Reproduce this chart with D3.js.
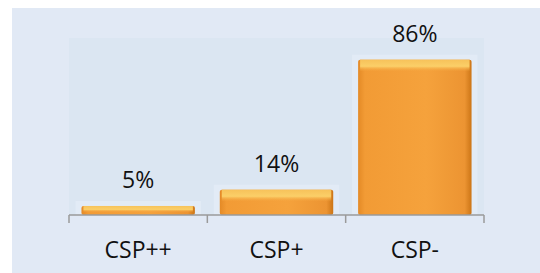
<!DOCTYPE html>
<html>
<head>
<meta charset="utf-8">
<script src="https://cdn.jsdelivr.net/npm/d3@7"></script>
<style>
  body { margin: 0; background: #fff; }
  svg { display: block; font-family: "Open Sans", "Noto Sans", sans-serif; }
</style>
</head>
<body>
<div id="chart"></div>
<script>
const categories = ["CSP++", "CSP+", "CSP-"];
const values = [5, 14, 86];
const valueLabels = ["5%", "14%", "86%"];

const width = 540, height = 273;
const plot = { left: 69, right: 484, top: 38, bottom: 215 };

const svg = d3.select("#chart").append("svg")
    .attr("width", width)
    .attr("height", height);

const defs = svg.append("defs");

// body of the bar: darker at the sides
const sideGrad = defs.append("linearGradient").attr("id", "barSide")
    .attr("x1", "0").attr("x2", "1").attr("y1", "0").attr("y2", "0");
sideGrad.append("stop").attr("offset", "0%").attr("stop-color", "#e48a26");
sideGrad.append("stop").attr("offset", "6%").attr("stop-color", "#f29b35");
sideGrad.append("stop").attr("offset", "60%").attr("stop-color", "#f5a23c");
sideGrad.append("stop").attr("offset", "94%").attr("stop-color", "#ec9432");
sideGrad.append("stop").attr("offset", "100%").attr("stop-color", "#cc7516");

// bevel on top
const topGrad = defs.append("linearGradient").attr("id", "barTop")
    .attr("x1", "0").attr("x2", "0").attr("y1", "0").attr("y2", "1");
topGrad.append("stop").attr("offset", "0%").attr("stop-color", "#f7c25a");
topGrad.append("stop").attr("offset", "55%").attr("stop-color", "#fbcf68");
topGrad.append("stop").attr("offset", "100%").attr("stop-color", "#f5a23c").attr("stop-opacity", 0);

// outer panel
svg.append("rect")
    .attr("x", 12).attr("y", 8)
    .attr("width", width - 12).attr("height", height - 8)
    .attr("fill", "#e1e9f5");

// plot area
svg.append("rect")
    .attr("x", plot.left).attr("y", plot.top)
    .attr("width", plot.right - plot.left).attr("height", plot.bottom - plot.top)
    .attr("fill", "#dbe6f2");

const x = d3.scaleBand()
    .domain(categories)
    .range([plot.left, plot.right])
    .paddingInner(0.18)
    .paddingOuter(0.09);

const y = d3.scaleLinear()
    .domain([0, 98])
    .range([plot.bottom, plot.top]);

const data = categories.map((c, i) => ({ cat: c, value: values[i], label: valueLabels[i] }));

const bars = svg.append("g").selectAll("g")
    .data(data)
    .enter()
    .append("g");

// soft halo behind bars
bars.append("rect")
    .attr("x", d => x(d.cat) - 6)
    .attr("y", d => y(d.value) - 5)
    .attr("width", x.bandwidth() + 12)
    .attr("height", d => y(0) - y(d.value) + 5)
    .attr("fill", "#e4ecf6")
    .attr("opacity", 0.8);

bars.append("rect")
    .attr("x", d => x(d.cat))
    .attr("y", d => y(d.value))
    .attr("width", x.bandwidth())
    .attr("height", d => y(0) - y(d.value))
    .attr("rx", 2)
    .attr("fill", "url(#barSide)");

bars.append("rect")
    .attr("x", d => x(d.cat) + 2)
    .attr("y", d => y(d.value))
    .attr("width", x.bandwidth() - 4)
    .attr("height", d => Math.min(12, (y(0) - y(d.value)) * 0.7))
    .attr("fill", "url(#barTop)");

// axis line with ticks at band edges
const axisY = plot.bottom;
const tickX = categories.map(c => x(c) - x.step() * x.paddingInner() / 2);
tickX[0] = plot.left;
tickX.push(plot.right);

svg.append("line")
    .attr("x1", plot.left).attr("x2", plot.right)
    .attr("y1", axisY).attr("y2", axisY)
    .attr("stroke", "#9a9a9a").attr("stroke-width", 1.5);

svg.append("g").selectAll("line")
    .data(tickX)
    .enter()
    .append("line")
    .attr("x1", d => d).attr("x2", d => d)
    .attr("y1", axisY).attr("y2", axisY + 8)
    .attr("stroke", "#9a9a9a").attr("stroke-width", 1.5);

// value labels
bars.append("text")
    .attr("x", d => x(d.cat) + x.bandwidth() / 2)
    .attr("y", d => y(d.value) - 18)
    .attr("text-anchor", "middle")
    .style("font-size", "23px")
    .style("fill", "#111")
    .text(d => d.label);

// category labels
svg.append("g").selectAll("text")
    .data(categories)
    .enter()
    .append("text")
    .attr("x", d => x(d) + x.bandwidth() / 2)
    .attr("y", 258)
    .attr("text-anchor", "middle")
    .style("font-size", "23px")
    .style("fill", "#111")
    .text(d => d);
</script>
</body>
</html>
